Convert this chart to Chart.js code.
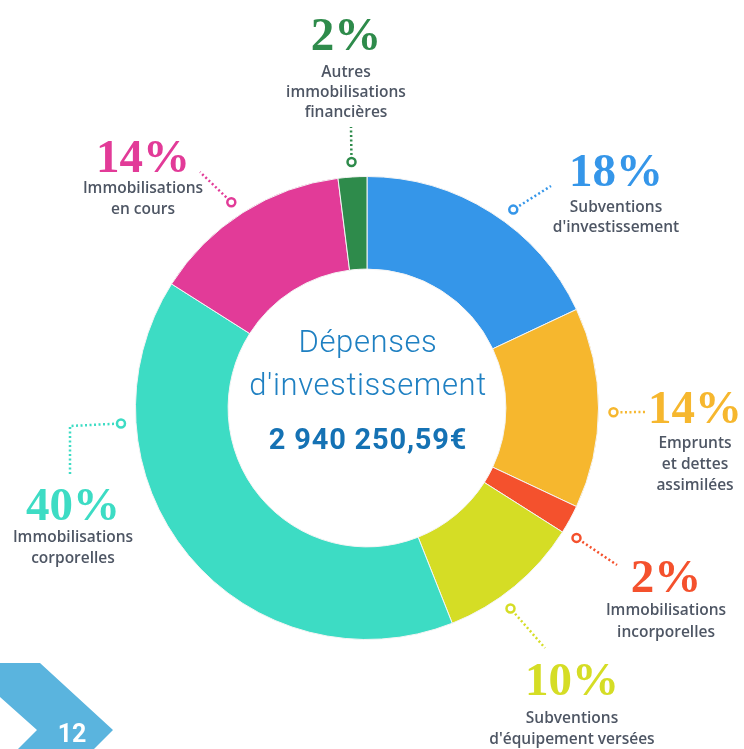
<!DOCTYPE html>
<html>
<head>
<meta charset="utf-8">
<script src="https://cdn.jsdelivr.net/npm/chart.js@4"></script>
<style>
  html, body { margin: 0; padding: 0; background: #fff; }
  #wrap { position: relative; width: 744px; height: 749px; }
</style>
</head>
<body>
<div id="wrap"><canvas id="depensesChart" width="744" height="749"></canvas></div>
<script>
// data, clockwise from 12 o'clock
const categories = [
  "Subventions d'investissement",
  "Emprunts et dettes assimilées",
  "Immobilisations incorporelles",
  "Subventions d'équipement versées",
  "Immobilisations corporelles",
  "Immobilisations en cours",
  "Autres immobilisations financières"
];
const shares = [18, 14, 2, 10, 40, 14, 2];
const labelLines = [
  ["Subventions", "d'investissement"],
  ["Emprunts", "et dettes", "assimilées"],
  ["Immobilisations", "incorporelles"],
  ["Subventions", "d'équipement versées"],
  ["Immobilisations", "corporelles"],
  ["Immobilisations", "en cours"],
  ["Autres", "immobilisations", "financières"]
];
const sliceColors = ["#3596e9", "#f6b72e", "#f4512d", "#d5dd25", "#3ddcc4", "#e23b98", "#2e8b4b"];
const centerTitle = ["Dépenses", "d'investissement"];
const centerTotal = "2 940 250,59€";
const pageNumber = "12";

// callout layout: angle shift (deg) for the anchor ring, path after the ring, text position
const callouts = [
  { shift: 4,  path: [[551, 186]],           x: 616, pctY: 186, lineY: [212, 232] },
  { shift: 1,  path: [[646, 412]],           x: 695, pctY: 423, lineY: [448, 469, 490] },
  { shift: 3,  path: [[617, 565]],           x: 666, pctY: 592, lineY: [615, 637] },
  { shift: 4,  path: [[545, 648]],           x: 572, pctY: 695, lineY: [723, 744] },
  { shift: 36, path: [[70, 426], [70, 475]], x: 73,  pctY: 520, lineY: [542, 563] },
  { shift: -1, path: [[200, 172]],           x: 143, pctY: 172, lineY: [193, 214] },
  { shift: 0,  path: [[351, 127]],           x: 346, pctY: 50,  lineY: [77, 97, 117] }
];

const calloutPlugin = {
  id: "callouts",
  afterDraw(chart) {
    const ctx = chart.ctx;
    const arcs = chart.getDatasetMeta(0).data;
    ctx.save();

    // centre text
    ctx.textAlign = "center";
    ctx.textBaseline = "alphabetic";
    ctx.fillStyle = "#1f80c2";
    ctx.font = "300 31px Roboto";
    ctx.letterSpacing = "0.6px";
    ctx.fillText(centerTitle[0], 368, 352);
    ctx.fillText(centerTitle[1], 368, 395);
    ctx.letterSpacing = "0.8px";
    ctx.fillStyle = "#1572b4";
    ctx.font = "bold 29px Roboto";
    ctx.fillText(centerTotal, 368, 449);
    ctx.letterSpacing = "0px";

    arcs.forEach((arc, i) => {
      const c = callouts[i];
      const mid = (arc.startAngle + arc.endAngle) / 2 + c.shift * Math.PI / 180;
      const r = arc.outerRadius + 15;
      const ax = arc.x + Math.cos(mid) * r;
      const ay = arc.y + Math.sin(mid) * r;
      const col = sliceColors[i];

      // dotted leader
      ctx.strokeStyle = col;
      ctx.lineWidth = 2.5;
      ctx.setLineDash([2, 2.5]);
      ctx.beginPath();
      const dx0 = c.path[0][0] - ax, dy0 = c.path[0][1] - ay;
      const d0 = Math.hypot(dx0, dy0);
      ctx.moveTo(ax + dx0 / d0 * 7, ay + dy0 / d0 * 7);
      c.path.forEach(p => ctx.lineTo(p[0], p[1]));
      ctx.stroke();
      ctx.setLineDash([]);

      // ring
      ctx.beginPath();
      ctx.arc(ax, ay, 4, 0, Math.PI * 2);
      ctx.fillStyle = "#fff";
      ctx.fill();
      ctx.lineWidth = 2.5;
      ctx.stroke();

      // percent
      ctx.fillStyle = col;
      ctx.font = "bold 47px 'Liberation Serif'";
      ctx.fillText(shares[i] + "%", c.x, c.pctY);

      // label
      ctx.fillStyle = "#4e5664";
      ctx.font = "600 15.5px 'Open Sans'";
      labelLines[i].forEach((t, k) => ctx.fillText(t, c.x, c.lineY[k]));
    });

    // page tab
    ctx.fillStyle = "#5ab4de";
    ctx.beginPath();
    ctx.moveTo(0, 663);
    ctx.lineTo(40, 663);
    ctx.lineTo(113, 730);
    ctx.lineTo(94, 749);
    ctx.lineTo(18, 749);
    ctx.lineTo(37, 730);
    ctx.lineTo(0, 697);
    ctx.closePath();
    ctx.fill();
    ctx.fillStyle = "#fff";
    ctx.font = "bold 25px Roboto";
    ctx.fillText(pageNumber, 72, 742);

    ctx.restore();
  }
};

new Chart(document.getElementById("depensesChart"), {
  type: "doughnut",
  data: {
    labels: categories,
    datasets: [{
      data: shares,
      backgroundColor: sliceColors,
      borderColor: "#f4f4f4",
      borderWidth: 1
    }]
  },
  options: {
    responsive: false,
    animation: false,
    cutout: "60%",
    layout: { padding: { left: 135, right: 145, top: 176, bottom: 109 } },
    plugins: {
      legend: { display: false },
      tooltip: { enabled: false }
    }
  },
  plugins: [calloutPlugin]
});
</script>
</body>
</html>
